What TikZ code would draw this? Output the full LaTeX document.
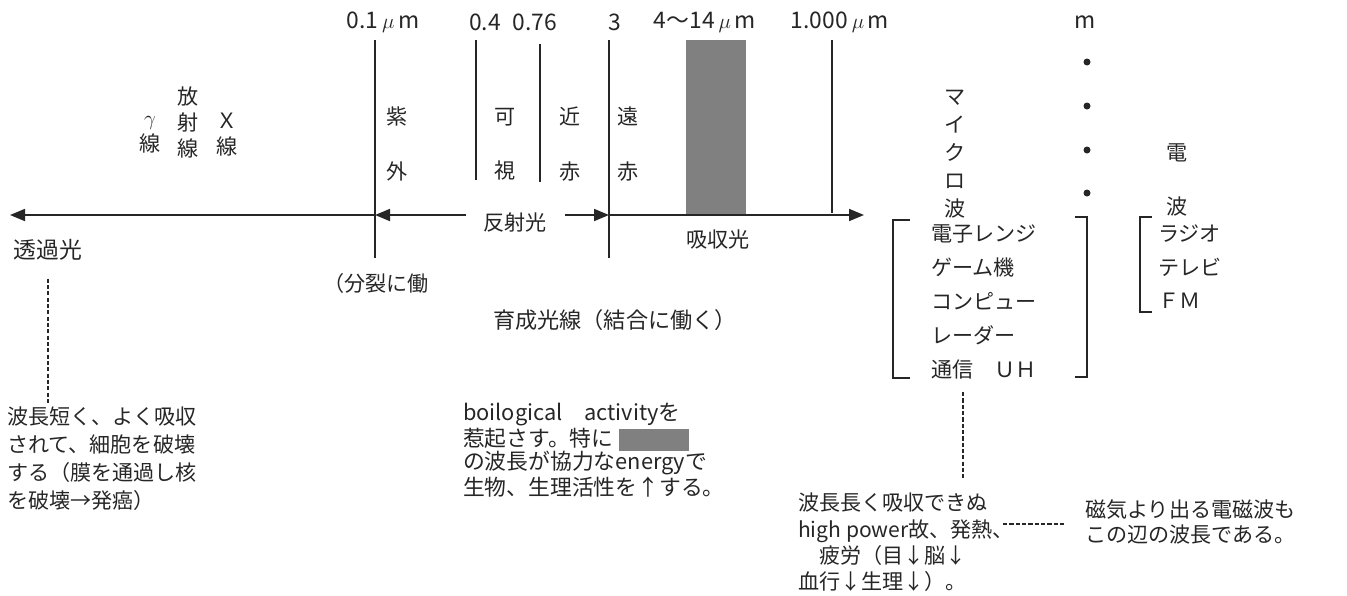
\documentclass[tikz,border=0pt]{standalone}
\usepackage{fontspec}
\newfontfamily\jpfont{Noto Sans CJK JP}
\usetikzlibrary{arrows.meta, positioning}
\definecolor{absgray}{RGB}{128,128,128}

\begin{document}
\begin{tikzpicture}[x=0.2mm, y=-0.2mm,
    >={Triangle[length=3mm, width=2.4mm]},
    lbl/.style={font=\jpfont\fontsize{12}{14}\selectfont, inner sep=1pt, text=black!85},
    num/.style={lbl, font=\jpfont\fontsize{13}{15}\selectfont},
    col/.style={lbl, align=center, font=\jpfont\fontsize{12}{14.8}\selectfont},
    wide/.style={lbl, align=center, font=\jpfont\fontsize{12}{31}\selectfont},
    note/.style={lbl, align=left, anchor=north west},
    bound/.style={line width=1pt, black!85},
    ray/.style={line width=1pt, black!85, ->},
    link/.style={black!85, line width=1.6pt, dash pattern=on 2.4pt off 1.2pt},
    brack/.style={line width=1pt, black!85}]

\useasboundingbox (0,0) rectangle (1347,595);

% absorption band 4-14 um
\fill[absgray] (686,40) rectangle (746,214);

% boundaries of the bands
\foreach \x/\t/\b/\n in {375/40/258/uv, 476/40/180/vis, 540/44/182/nir, 609/40/258/fir, 832/40/213/far} {
    \draw[bound] (\x,\t) -- (\x,\b);
    \coordinate (\n) at (\x,215);
}

% wavelength labels
\node[num] (w01) at (383,22) {0.1\,$\mu$\,m};
\node[num] (w04) at (485,22) {0.4};
\node[num] (w076) at (535,22) {0.76};
\node[num] (w3) at (615,22) {3};
\node[num] (w414) at (705,22) {4〜14\,$\mu$\,m};
\node[num] (w1000) at (840,22) {1.000\,$\mu$\,m};
\node[num] (wm) at (1085,22) {m};
\foreach \y in {62,106,150,193} {
    \fill[black!85] (1087,\y) circle (0.7mm);
}

% axis
\coordinate (axis_left) at (10,215);
\coordinate (axis_right) at (864,215);
\draw[ray] (uv) -- (axis_left);
\draw[ray] (fir) -- (axis_right);
\draw[ray, <->] (uv) -- node[lbl, pos=0.6, fill=white, inner xsep=3.6mm, yshift=-1.4mm] (refl) {反射光} (fir);

% band names
\node[col] (gamma) at (150,135) {$\gamma$\\線};
\node[col] (rad) at (188,122) {放\\射\\線};
\node[col] (xray) at (227,135) {Ｘ\\線};
\foreach \x/\y/\a/\b/\n in {397/144/紫/外/uvtxt, 505/144/可/視/vistxt, 570/144/近/赤/nirtxt, 628/144/遠/赤/firtxt, 1177/180/電/波/radtxt} {
    \node[wide] (\n) at (\x,\y) {\a\\\b};
}
\node[col, font=\jpfont\fontsize{12}{16}\selectfont] (micro) at (955,154) {マ\\イ\\ク\\ロ\\波};

% labels below the axis
\node[lbl, font=\jpfont\fontsize{13}{15}\selectfont] (tou) at (48,250) {透過光};
\node[lbl] (abs) at (718,240) {吸収光};
\node[lbl] (split) at (376,283) {（分裂に働};
\node[lbl, font=\jpfont\fontsize{12.6}{15}\selectfont] (grow) at (615,320) {育成光線（結合に働く）};

% microwave and radio lists
\node[note, font=\jpfont\fontsize{12}{19.3}\selectfont] (mwlist) at (929,223) {電子レンジ\\ゲーム機\\コンピュー\\レーダー\\通信　ＵＨ};
\draw[brack] (910,220) -- (893,220) -- (893,378) -- (910,378);
\draw[brack] (1075,217) -- (1087,217) -- (1087,377) -- (1075,377);
\node[note, font=\jpfont\fontsize{12}{19}\selectfont] (radlist) at (1156,223) {ラジオ\\テレビ\\ＦＭ};
\draw[brack] (1152,217) -- (1140,217) -- (1140,312) -- (1152,312);

% notes
\node[note, font=\jpfont\fontsize{12}{15.9}\selectfont] (leftnote) at (5,405) {波長短く、よく吸収\\されて、細胞を破壊\\する（膜を通過し核\\を破壊→発癌）};
\node[note, font=\jpfont\fontsize{12.4}{13.4}\selectfont] (midnote) at (461,401) {boilogical　activityを\\惹起さす。特に\hspace{1.2mm}\textcolor{absgray}{\rule[-1mm]{14mm}{4.4mm}}\\の波長が協力なenergyで\\生物、生理活性を↑する。};
\node[note, font=\jpfont\fontsize{12}{14.9}\selectfont] (mwnote) at (796,491) {波長長く吸収できぬ\\high power故、発熱、\\\hspace{1em}疲労（目↓脳↓\\血行↓生理↓）。};
\node[note, font=\jpfont\fontsize{12}{14.2}\selectfont] (magnote) at (1083,498) {磁気より出る電磁波も\\この辺の波長である。};

% dashed links
\draw[link] ([yshift=-3.2mm]tou.south) -- (tou.south |- leftnote.north);
\coordinate (mwdrop) at (963,392);
\draw[link, shorten >=2.4mm] (mwdrop) -- (mwdrop |- mwnote.north);
\coordinate (heat) at (1003,524);
\draw[link, shorten >=3.4mm] (heat) -- (heat -| magnote.west);

\end{tikzpicture}
\end{document}
